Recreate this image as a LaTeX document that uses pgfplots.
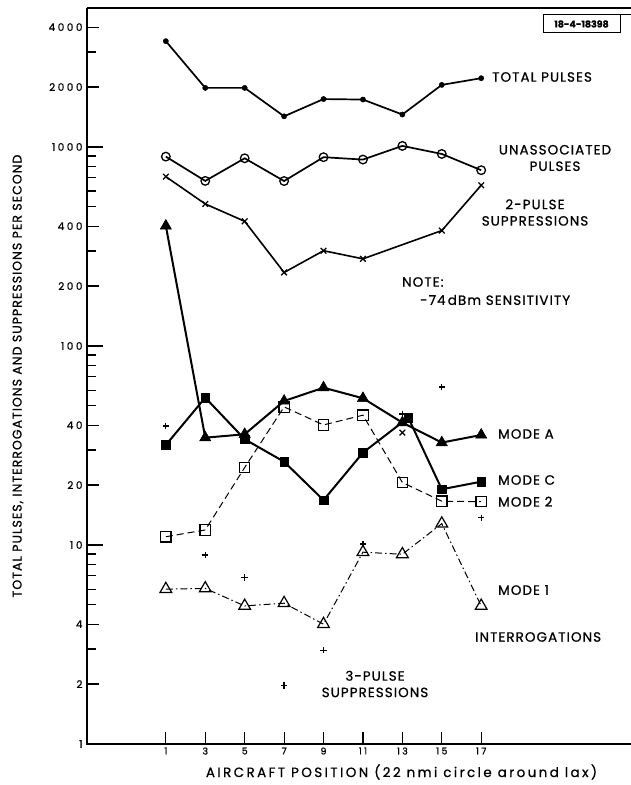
\documentclass[border=0pt]{standalone}
\usepackage{fontspec}
\setmainfont{Poppins}[FakeBold=0.8]
\newfontfamily\labfont{Poppins}[FakeBold=0.8, LetterSpace=8]
\newfontfamily\ylfont{Poppins}[FakeBold=0.8, LetterSpace=8]
\newfontfamily\wfont{Poppins}[FakeBold=0.8, LetterSpace=18]
\newfontfamily\tfont{Poppins}[FakeBold=0.8, LetterSpace=24]
\usepackage{pgfplots}
\pgfplotsset{compat=1.18}
\newcommand\lab{\labfont\fontsize{13.5}{16.5}\selectfont}
\begin{document}
\begin{tikzpicture}
\path[use as bounding box] (-87bp,-41bp) rectangle (544bp,744bp);
\begin{axis}[
  at={(0bp,0bp)}, anchor=south west,
  scale only axis, width=544bp, height=736bp,
  xmin=-3, xmax=24.6, ymode=log, ymin=1, ymax=4990,
  axis line style={draw=none},
  xtick pos=left, ytick pos=left,
  /pgf/number format/assume math mode=true,
  xtick={1,3,5,7,9,11,13,15,17},
  ytick={2,4,20,40,200,400,2000,4000},
  yticklabels={2,4,20,40,200,400,2000,4000},
  extra y ticks={1,10,100,1000},
  extra y tick labels={1,10,100,1000},
  extra y tick style={major tick length=16bp},
  minor ytick={3,5,6,7,8,9,30,50,60,70,80,90,300,500,600,700,800,900,3000},
  major tick length=12bp, minor tick length=9bp, tick align=inside,
  tick style={black, line width=1.2bp},
  yticklabel style={font=\tfont\fontsize{10.5}{12}\selectfont, xshift=-1bp},
  xticklabel style={font=\tfont\fontsize{9.5}{11}\selectfont},
  clip=false,
]
% TOTAL PULSES
\addplot[black, line width=1.7bp, mark=*, mark size=2.6bp, mark options={line width=0.5bp}] coordinates {
(1,3400) (3,1980) (5,1980) (7,1425) (9,1740) (11,1730) (13,1455) (15,2050) (17,2215)};
% UNASSOCIATED PULSES
\addplot[black, line width=1.7bp, mark=o, mark size=4.3bp, mark options={fill=white, line width=1.3bp}] coordinates {
(1,894) (3,675) (5,877) (7,674) (9,888) (11,864) (13,1012) (15,922) (17,764)};
% 2-PULSE SUPPRESSIONS
\addplot[black, line width=1.6bp, mark=x, mark size=4bp, mark options={line width=1.3bp}] coordinates {
(1,709) (3,517) (5,423) (7,234) (9,301) (11,274) (15,380) (17,642)};
\addplot[only marks, black, mark=x, mark size=4bp, mark options={line width=1.3bp}] coordinates {(13,36.7)};
% MODE A
\addplot[black, line width=2bp, mark=triangle*, mark size=6.5bp, mark options={line width=0.5bp}] coordinates {
(1,401) (3,34.6) (5,36.0) (7,52.9) (9,61.7) (11,54.6) (13,41.2) (15,32.7) (17,35.7)};
% MODE C
\addplot[black, line width=2bp, mark=square*, mark size=4.3bp, mark options={line width=0.5bp}] coordinates {
(1,31.8) (3,55) (5,34) (7,26.2) (9,16.8) (11,29.1) (13.3,43.6) (15,19.05) (17,20.8)};
% MODE 2
\addplot[black, line width=1bp, dash pattern=on 7bp off 4bp, mark=square, mark size=5.2bp, mark options={solid, fill=white, line width=1.2bp}] coordinates {
(1,11.0) (3,11.9) (5,24.5) (7,49.4) (9,40.1) (11,44.9) (13,20.6) (15,16.6) (17,16.5)};
% MODE 1
\addplot[black, line width=1bp, dash pattern=on 7bp off 3bp on 1.5bp off 3bp, mark=triangle, mark size=6.8bp, mark options={solid, fill=white, line width=1.2bp}] coordinates {
(1,6.0) (3,6.05) (5,4.94) (7,5.1) (9,4.0) (11,9.2) (13,8.98) (15,12.8) (17,4.94)};
% 3-PULSE SUPPRESSIONS
\addplot[only marks, black, mark=+, mark size=3.2bp, mark options={line width=1.3bp}] coordinates {
(1,39.6) (3,8.9) (5,6.85) (7,1.97) (9,2.96) (11,10.1) (13,45.5) (15,62.2) (17,13.7)};
\draw[line width=1.1bp] (rel axis cs:0,1) -- (rel axis cs:1,1);
\draw[line width=1.1bp] (rel axis cs:0,1) -- (rel axis cs:0,0) -- (rel axis cs:1,0);
\end{axis}
\begin{scope}[every node/.style={font=\lab, inner sep=0pt}]
\node[anchor=west] at (405bp,667bp) {TOTAL PULSES};
\node[align=center] at (468bp,586bp) {UNASSOCIATED\\PULSES};
\node[align=center] at (448bp,531.5bp) {2-PULSE\\SUPPRESSIONS};
\node[anchor=west] at (315bp,462bp) {NOTE:};
\node[anchor=west] at (333bp,444bp) {-74\,dBm SENSITIVITY};
\node[anchor=west] at (411bp,310bp) {MODE A};
\node[anchor=west] at (411bp,264bp) {MODE C};
\node[anchor=west] at (411bp,242.3bp) {MODE 2};
\node[anchor=west] at (411bp,154bp) {MODE 1};
\node[anchor=west] at (388bp,107bp) {INTERROGATIONS};
\node[align=center] at (288bp,60bp) {3-PULSE\\SUPPRESSIONS};
\node[rotate=90, font=\ylfont\fontsize{12.6}{15}\selectfont] at (-69bp,368bp) {TOTAL PULSES, INTERROGATIONS AND SUPPRESSIONS PER SECOND};
\node[font=\wfont\fontsize{13.5}{16}\selectfont] at (314.5bp,-28bp) {AIRCRAFT POSITION (22 nmi circle around lax)};
\end{scope}
\draw[line width=1bp] (533bp,711bp) -- (533bp,729bp) -- (456bp,729bp) -- (456bp,711bp) -- cycle;
\draw[line width=1bp] (533bp,729bp) -- (544bp,729bp);
\node[font=\fontsize{9.5}{11}\selectfont\bfseries, inner sep=0pt] at (494.5bp,720bp) {18-4-18398};
\end{tikzpicture}
\end{document}
